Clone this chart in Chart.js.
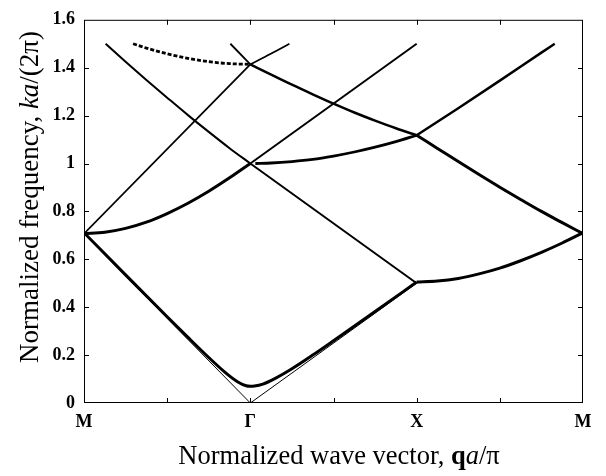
<!DOCTYPE html>
<html>
<head>
<meta charset="utf-8">
<script src="https://cdn.jsdelivr.net/npm/chart.js@4/dist/chart.umd.min.js"></script>
<style>
  body { margin: 0; background: #fff; }
</style>
</head>
<body>
<canvas id="bandChart" width="606" height="476"></canvas>
<script>
// tick labels (x runs M=0, Γ=2, X=4, M=6)
const xTickLabels = ['M', '', 'Γ', '', 'X', '', 'M'];
const yTickLabels = ['0', '0.2', '0.4', '0.6', '0.8', '1', '1.2', '1.4', '1.6'];

// lowest band, gap opened at Γ
const gapX = [0, 0.5, 1, 1.25, 1.5, 1.7, 1.85, 1.95, 2, 2.05, 2.15, 2.3, 2.5, 2.75, 3, 3.5, 4];
const gapY = [0.711, 0.535, 0.360, 0.274, 0.190, 0.127, 0.088, 0.072, 0.070, 0.071, 0.079, 0.103, 0.143, 0.200, 0.260, 0.382, 0.505];

// thin straight line down to zero at Γ
const acX = [0, 2, 4];
const acY = [0.707, 0, 0.5];

// M -> Γ
const mgX = [0, 0.25, 0.5, 0.75, 1, 1.25, 1.5, 1.75, 2];
const mgBand2 = [0.707, 0.713, 0.729, 0.755, 0.791, 0.834, 0.884, 0.940, 1.0];
const mgLineX = [0, 2];
const mgLineY = [0.707, 1.414];
const mgBand3X = [0.26, 0.5, 0.75, 1, 1.25, 1.5, 1.75, 2];
const mgBand3Y = [1.5, 1.425, 1.349, 1.275, 1.202, 1.132, 1.064, 1.0];
const mgDashX = [0.59, 0.75, 1, 1.25, 1.5, 1.75, 2];
const mgDashY = [1.5, 1.482, 1.458, 1.439, 1.425, 1.417, 1.414];
const mgTopX = [1.76, 2];
const mgTopY = [1.5, 1.414];

// Γ -> X
const gxX = [2, 2.25, 2.5, 2.75, 3, 3.25, 3.5, 3.75, 4];
const gxUpper = [1.414, 1.371, 1.329, 1.289, 1.25, 1.213, 1.179, 1.147, 1.118];
const gxFlatX = [2.06, 2.25, 2.5, 2.75, 3, 3.25, 3.5, 3.75, 4];
const gxFlatY = [1.0, 1.002, 1.008, 1.017, 1.031, 1.048, 1.068, 1.091, 1.118];
const gxDownX = [2, 4];
const gxDownY = [1.0, 0.5];
const gxUpX = [2, 4];
const gxUpY = [1.0, 1.5];
const gxTopX = [2, 2.24, 2.47];
const gxTopY = [1.414, 1.457, 1.5];

// X -> M
const xmX = [4, 4.25, 4.5, 4.75, 5, 5.25, 5.5, 5.75, 6];
const xmLow = [0.505, 0.509, 0.520, 0.539, 0.563, 0.594, 0.629, 0.668, 0.711];
const xmMid = [1.118, 1.063, 1.008, 0.954, 0.901, 0.850, 0.800, 0.753, 0.707];
const xmUpX = [4, 4.5, 5, 5.5, 5.66];
const xmUpY = [1.118, 1.231, 1.346, 1.463, 1.5];

const pts = (xs, ys) => xs.map((x, i) => ({ x: x, y: ys[i] }));

// smooth = curved band, otherwise straight segments
const band = (xs, ys, width, smooth, dash) => ({
    data: pts(xs, ys),
    showLine: true,
    borderColor: '#000',
    borderWidth: width,
    borderDash: dash || [],
    pointRadius: 0,
    tension: 0,
    cubicInterpolationMode: smooth ? 'monotone' : 'default',
    fill: false
});

const serif = 'Liberation Serif';

// box with inward ticks on all four sides
const frame = {
    id: 'frame',
    afterDatasetsDraw(chart) {
        const { ctx, chartArea: { left, right, top, bottom }, scales: { x, y } } = chart;
        ctx.save();
        ctx.strokeStyle = '#000';
        ctx.lineWidth = 1;
        ctx.strokeRect(left + 0.5, top + 0.5, right - left - 1, bottom - top - 1);
        ctx.beginPath();
        for (let i = 1; i < xTickLabels.length - 1; i++) {
            let px = Math.round(x.getPixelForValue(i)) + 0.5;
            ctx.moveTo(px, bottom);
            ctx.lineTo(px, bottom - 5);
            ctx.moveTo(px, top);
            ctx.lineTo(px, top + 5);
        }
        for (let i = 1; i < yTickLabels.length - 1; i++) {
            let py = Math.round(y.getPixelForValue(i * 0.2)) + 0.5;
            ctx.moveTo(left, py);
            ctx.lineTo(left + 5, py);
            ctx.moveTo(right, py);
            ctx.lineTo(right - 5, py);
        }
        ctx.stroke();
        ctx.restore();
    }
};

// axis titles with mixed bold / italic parts
const drawParts = (ctx, parts, cx, cy) => {
    let total = 0;
    parts.forEach(p => {
        ctx.font = p[1];
        total += ctx.measureText(p[0]).width;
    });
    let pos = cx - total / 2;
    parts.forEach(p => {
        ctx.font = p[1];
        ctx.fillText(p[0], pos, cy);
        pos += ctx.measureText(p[0]).width;
    });
};

const titles = {
    id: 'titles',
    afterDraw(chart) {
        const ctx = chart.ctx;
        const f = '26.5px "' + serif + '"';
        const fy = '27px "' + serif + '"';
        ctx.save();
        ctx.fillStyle = '#000';
        ctx.textBaseline = 'alphabetic';
        drawParts(ctx, [
            ['Normalized wave vector, ', f],
            ['q', 'bold ' + f],
            ['a', 'italic ' + f],
            ['/π', f]
        ], 339, 464);
        ctx.translate(38, 197);
        ctx.rotate(-Math.PI / 2);
        drawParts(ctx, [
            ['Normalized frequency, ', fy],
            ['ka', 'italic ' + fy],
            ['/(2π)', fy]
        ], 0, 0);
        ctx.restore();
    }
};

const tickFont = { family: serif, size: 18, weight: 'bold' };

const bandChart = new Chart(document.getElementById('bandChart'), {
    type: 'scatter',
    data: {
        datasets: [
            band(acX, acY, 1, false),
            band(gapX, gapY, 3, true),
            band(mgX, mgBand2, 3, true),
            band(mgLineX, mgLineY, 1.8, false),
            band(mgBand3X, mgBand3Y, 2, true),
            band(mgDashX, mgDashY, 2.8, true, [4, 2]),
            band(mgTopX, mgTopY, 1.8, false),
            band(gxDownX, gxDownY, 2, false),
            band(gxUpX, gxUpY, 2, false),
            band(gxFlatX, gxFlatY, 2.8, true),
            band(gxX, gxUpper, 2.5, true),
            band(gxTopX, gxTopY, 1.8, true),
            band(xmX, xmLow, 3, true),
            band(xmX, xmMid, 3, true),
            band(xmUpX, xmUpY, 2.5, true)
        ]
    },
    options: {
        responsive: false,
        animation: false,
        layout: { padding: { top: 11, right: 23, left: 0, bottom: 0 } },
        scales: {
            x: {
                type: 'linear',
                min: 0,
                max: 6,
                afterFit: s => { s.height = 73; },
                grid: { display: false, drawTicks: false },
                border: { display: false },
                ticks: {
                    stepSize: 1,
                    autoSkip: false,
                    maxRotation: 0,
                    padding: 9,
                    color: '#000',
                    font: tickFont,
                    callback: v => xTickLabels[Math.round(v)]
                }
            },
            y: {
                min: 0,
                max: 1.6,
                afterFit: s => { s.width = 84; },
                grid: { display: false, drawTicks: false },
                border: { display: false },
                ticks: {
                    stepSize: 0.2,
                    padding: 9,
                    color: '#000',
                    font: tickFont,
                    callback: v => yTickLabels[Math.round(v / 0.2)]
                }
            }
        },
        plugins: {
            legend: { display: false },
            tooltip: { enabled: false }
        }
    },
    plugins: [frame, titles]
});
</script>
</body>
</html>
